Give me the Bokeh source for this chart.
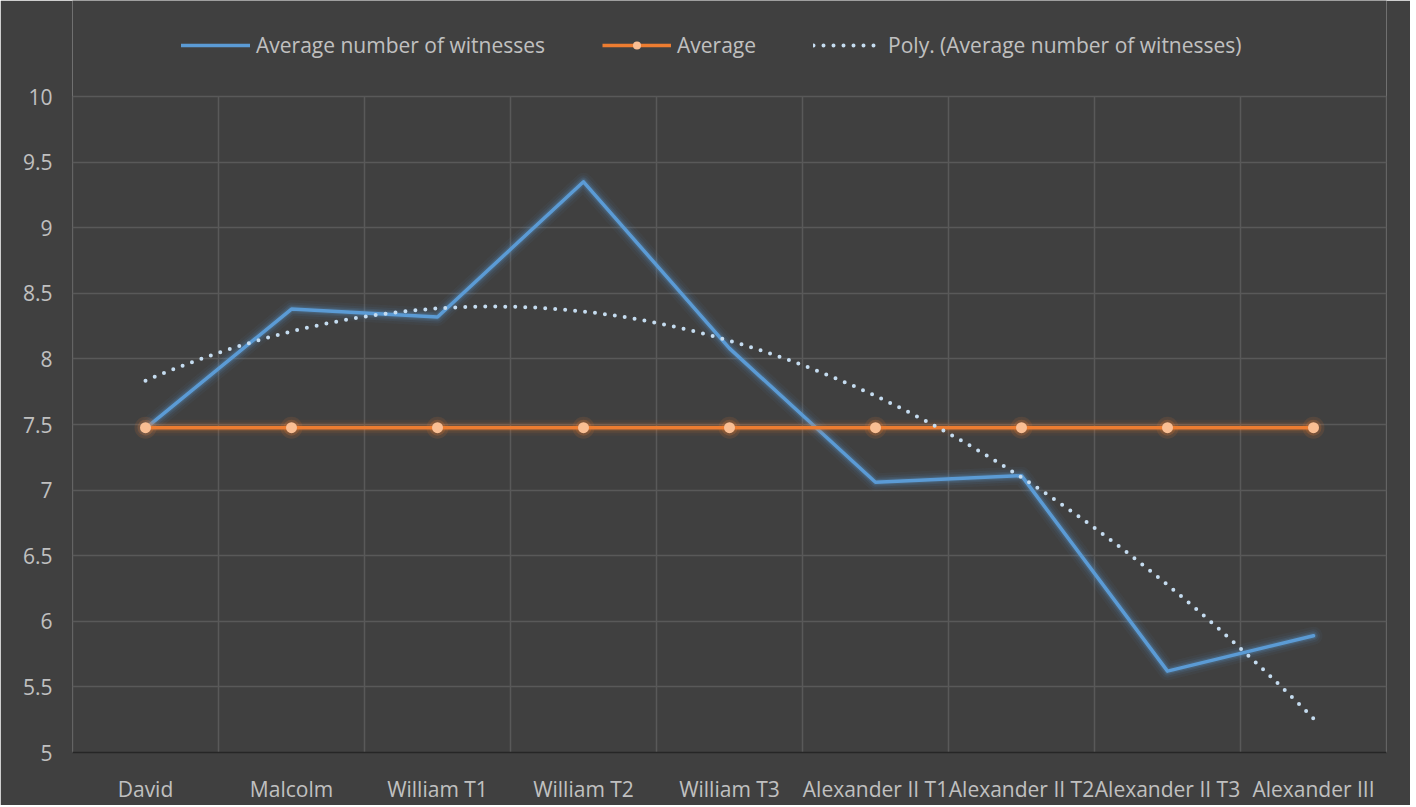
import numpy as np
from bokeh.plotting import figure
from bokeh.models import Range1d, FixedTicker, Legend, LegendItem
from bokeh.embed import file_html
from bokeh.resources import INLINE

categories = ["David", "Malcolm", "William T1", "William T2", "William T3",
              "Alexander II T1", "Alexander II T2", "Alexander II T3", "Alexander III"]
witnesses = [7.47, 8.38, 8.32, 9.35, 8.08, 7.06, 7.11, 5.62, 5.89]
y_ticks = [5, 5.5, 6, 6.5, 7, 7.5, 8, 8.5, 9, 9.5, 10]
y_labels = ["5", "5.5", "6", "6.5", "7", "7.5", "8", "8.5", "9", "9.5", "10"]
series_names = ["Average number of witnesses", "Average", "Poly. (Average number of witnesses)"]

Y_MIN, Y_MAX = 5, 10
x = list(range(len(categories)))
avg_val = float(np.mean(witnesses))
average = [avg_val] * len(categories)

# polynomial (order 2) trendline, as in the original chart
coef = np.polyfit(x, witnesses, 2)
xs_fit = np.linspace(0, len(categories) - 1, 200)
ys_fit = np.polyval(coef, xs_fit)

BG = "#404040"
TXT = "#C0C0C0"
FONT = "Open Sans"
BLUE = "#5B9BD5"
ORANGE = "#ED7D31"
PEACH = "#F9BE93"
DOT = "#C5DCF0"
GRID = "#595959"

H = 805
PLOT_TOP = 96      # pixel row of the value 10
PLOT_BOTTOM = 752  # pixel row of the value 5
px_per_unit = (PLOT_BOTTOM - PLOT_TOP) / (Y_MAX - Y_MIN)
y_top = Y_MAX + PLOT_TOP / px_per_unit  # extend range so legend fits inside the frame

p = figure(width=1410, height=H, output_backend="svg", toolbar_location=None,
           x_range=Range1d(-0.5, len(categories) - 0.5), y_range=Range1d(Y_MIN, y_top),
           min_border_left=72, min_border_right=24, min_border_top=0,
           min_border_bottom=H - PLOT_BOTTOM)
p.background_fill_color = BG
p.border_fill_color = BG
p.outline_line_color = None

# grids: horizontal via grid, vertical (category boundaries) limited to plot area
p.xgrid.visible = False
p.ygrid.ticker = FixedTicker(ticks=y_ticks)
p.ygrid.grid_line_color = GRID
p.ygrid.grid_line_width = 1.5
bounds = [i - 0.5 for i in range(len(categories) + 1)]
p.segment(x0=bounds, y0=[Y_MIN] * len(bounds), x1=bounds, y1=[Y_MAX] * len(bounds),
          line_color=GRID, line_width=1.5)

p.xaxis.ticker = FixedTicker(ticks=x)
p.xaxis.major_label_overrides = {i: c for i, c in enumerate(categories)}
p.yaxis.ticker = FixedTicker(ticks=y_ticks)
p.yaxis.major_label_overrides = {t: l for t, l in zip(y_ticks, y_labels)}
for ax in (p.xaxis, p.yaxis):
    ax.major_tick_line_color = None
    ax.minor_tick_line_color = None
    ax.major_label_text_color = TXT
    ax.major_label_text_font = FONT
    ax.major_label_text_font_size = "21px"
p.yaxis.axis_line_color = None
p.xaxis.axis_line_color = "#262626"
p.xaxis.axis_line_width = 1.5
p.xaxis.major_label_standoff = 16
p.yaxis.major_label_standoff = 14

# blue series with glow
for w, a in [(18, 0.05), (13, 0.08), (9, 0.12), (6, 0.18)]:
    p.line(x, witnesses, line_color=BLUE, line_width=w, line_alpha=a,
           line_join="round", line_cap="round")
blue = p.line(x, witnesses, line_color=BLUE, line_width=3.5, line_join="round",
              line_cap="round")

# orange average with glow
for w, a in [(16, 0.05), (11, 0.09), (7, 0.15)]:
    p.line(x, average, line_color=ORANGE, line_width=w, line_alpha=a)
for s, a in [(22, 0.12), (16, 0.2)]:
    p.scatter(x, average, size=s, fill_color=ORANGE, fill_alpha=a, line_color=None)
orange = p.line(x, average, line_color=ORANGE, line_width=3.5)
orange_pts = p.scatter(x, average, size=11, fill_color=PEACH, line_color=None)

# dotted poly trendline
trend = p.line(xs_fit, ys_fit, line_color=DOT, line_width=4, line_dash="0 10",
               line_cap="round")

legend = Legend(items=[
    LegendItem(label=series_names[0], renderers=[blue]),
    LegendItem(label=series_names[1], renderers=[orange, orange_pts]),
    LegendItem(label=series_names[2], renderers=[trend]),
], orientation="horizontal", location=(109, PLOT_BOTTOM - 59))
legend.glyph_width = 69
legend.glyph_height = 20
legend.label_standoff = 6
legend.spacing = 57
legend.padding = 0
legend.margin = 0
legend.background_fill_alpha = 0
legend.border_line_color = None
legend.label_text_color = TXT
legend.label_text_font = FONT
legend.label_text_font_size = "21px"
p.add_layout(legend, "center")

open("out.html", "w").write(file_html(p, INLINE))
